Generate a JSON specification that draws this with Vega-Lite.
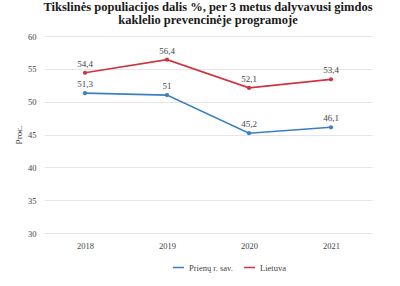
{
  "$schema": "https://vega.github.io/schema/vega-lite/v6.json",
  "width": 400,
  "height": 286,
  "autosize": {"type": "fit", "contains": "padding"},
  "padding": {"left": 14, "right": 28, "top": 0, "bottom": 36},
  "background": "white",
  "title": {
    "text": ["Tikslinės populiacijos dalis %, per 3 metus dalyvavusi gimdos", "kaklelio prevencinėje programoje"],
    "font": "Liberation Serif",
    "fontSize": 12.5,
    "fontWeight": "bold",
    "color": "#1a1a1a",
    "anchor": "middle",
    "offset": 6,
    "lineHeight": 13
  },
  "data": {
    "values": [
      {"year": "2018", "series": "Prienų r. sav.", "value": 51.3, "label": "51,3"},
      {"year": "2019", "series": "Prienų r. sav.", "value": 51.0, "label": "51"},
      {"year": "2020", "series": "Prienų r. sav.", "value": 45.2, "label": "45,2"},
      {"year": "2021", "series": "Prienų r. sav.", "value": 46.1, "label": "46,1"},
      {"year": "2018", "series": "Lietuva", "value": 54.4, "label": "54,4"},
      {"year": "2019", "series": "Lietuva", "value": 56.4, "label": "56,4"},
      {"year": "2020", "series": "Lietuva", "value": 52.1, "label": "52,1"},
      {"year": "2021", "series": "Lietuva", "value": 53.4, "label": "53,4"}
    ]
  },
  "encoding": {
    "x": {
      "field": "year", "type": "ordinal",
      "scale": {"type": "point", "padding": 0.5},
      "axis": {"labelAngle": 0, "ticks": false, "domain": false, "title": null, "labelFont": "Liberation Serif", "labelFontSize": 8.5, "labelColor": "#444", "labelPadding": 8}
    },
    "y": {
      "field": "value", "type": "quantitative",
      "scale": {"domain": [30, 60], "nice": false, "zero": false},
      "axis": {"values": [30, 35, 40, 45, 50, 55, 60], "ticks": false, "domain": false, "gridColor": "#e6e6e6", "title": "Proc.", "titleFont": "Liberation Serif", "titleFontWeight": "normal", "titleFontSize": 9, "titleColor": "#444", "titlePadding": 4, "labelFont": "Liberation Serif", "labelFontSize": 8.5, "labelColor": "#444", "labelPadding": 8}
    },
    "color": {
      "field": "series", "type": "nominal",
      "scale": {"domain": ["Prienų r. sav.", "Lietuva"], "range": ["#3a80c0", "#cf3440"]},
      "legend": {"orient": "none", "legendX": 128, "legendY": 225, "title": null, "direction": "horizontal", "labelFont": "Liberation Serif", "labelFontSize": 8.5, "labelColor": "#444", "symbolType": "stroke", "symbolSize": 120, "symbolStrokeWidth": 1.5, "columnPadding": 8}
    }
  },
  "layer": [
    {"mark": {"type": "line", "strokeWidth": 1.6, "point": {"filled": true, "size": 18}}},
    {"mark": {"type": "text", "dy": -9, "font": "Liberation Serif", "fontSize": 9, "color": "#444"},
     "encoding": {"text": {"field": "label"}, "color": {"value": "#444"}}}
  ],
  "config": {"view": {"stroke": null}}
}
